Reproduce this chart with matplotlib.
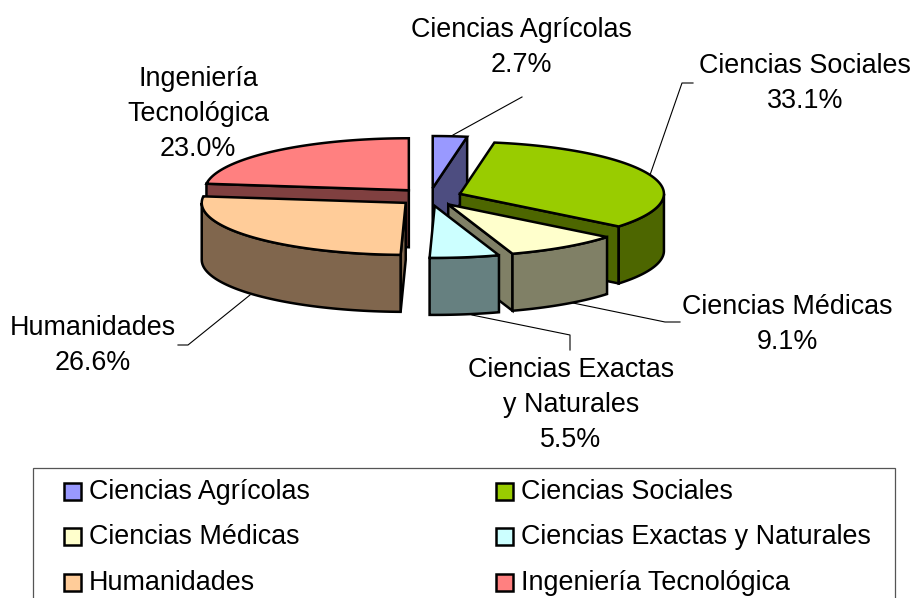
import numpy as np
import matplotlib
matplotlib.use("Agg")
import matplotlib.pyplot as plt
from matplotlib.patches import Polygon, Rectangle

plt.rcParams["font.family"] = ["Liberation Sans", "DejaVu Sans"]

categories = ["Ciencias Agrícolas", "Ciencias Sociales", "Ciencias Médicas",
              "Ciencias Exactas y Naturales", "Humanidades", "Ingeniería Tecnológica"]
labels = ["Ciencias Agrícolas", "Ciencias Sociales", "Ciencias Médicas",
          "Ciencias Exactas\ny Naturales", "Humanidades", "Ingeniería\nTecnológica"]
values = [2.7, 33.1, 9.1, 5.5, 26.6, 23.0]
colors = ["#9999FF", "#99CC00", "#FFFFCC", "#CCFFFF", "#FFCC99", "#FF8080"]

# pie geometry, in pixels
cx, cy = 430, 197
rx, ry = 204, 52
explode_x, explode_y = 32, 9
depth = 57
lw = 1.8
fs = 19.4

# label centres (x, first line y), line spacing 35
label_pos = [(521, 30), (805, 66), (787, 307), (571, 370), (93, 328), (198, 79)]

# leader lines
leaders = [
    [(453, 135), (522, 97)],
    [(650, 175), (682, 83), (693, 83)],
    [(573, 303), (665, 322), (680, 322)],
    [(472, 315), (570, 335), (570, 350)],
    [(250, 295), (188, 345), (178, 345)],
]

# back to front
draw_order = [0, 5, 1, 4, 2, 3]


def dark(c):
    return tuple(v / 2 for v in matplotlib.colors.to_rgb(c))


def point(ax0, ay0, deg):
    t = np.radians(deg)
    return ax0 + rx * np.sin(t), ay0 - ry * np.cos(t)


def draw_wall(ax, ax0, ay0, deg, color, z):
    px, py = point(ax0, ay0, deg)
    pts = [(ax0, ay0), (px, py), (px, py + depth), (ax0, ay0 + depth)]
    ax.add_patch(Polygon(pts, closed=True, fc=dark(color), ec="black", lw=lw, zorder=z, joinstyle="miter"))


def draw_slice(ax, start, end, color, z):
    mid = np.radians((start + end) / 2)
    ax0 = cx + explode_x * np.sin(mid)
    ay0 = cy - explode_y * np.cos(mid)

    # radial walls that face the viewer
    if np.sin(np.radians(end)) > 0.01:
        draw_wall(ax, ax0, ay0, end, color, z)
    if np.sin(np.radians(start)) < -0.01:
        draw_wall(ax, ax0, ay0, start, color, z)

    # outer rim, only the front half of the ellipse
    a = max(start, 90)
    b = min(end, 270)
    if b > a:
        t = np.linspace(a, b, 60)
        x, y = point(ax0, ay0, t)
        pts = np.r_[np.c_[x, y], np.c_[x, y + depth][::-1]]
        ax.add_patch(Polygon(pts, closed=True, fc=dark(color), ec="black", lw=lw, zorder=z, joinstyle="miter"))

    # top
    t = np.linspace(start, end, 80)
    x, y = point(ax0, ay0, t)
    pts = np.r_[[(ax0, ay0)], np.c_[x, y]]
    ax.add_patch(Polygon(pts, closed=True, fc=color, ec="black", lw=lw, zorder=z, joinstyle="miter"))


fig = plt.figure(figsize=(9.14, 5.98), dpi=100)
ax = fig.add_axes([0, 0, 1, 1])
ax.set_xlim(0, 914)
ax.set_ylim(598, 0)
ax.axis("off")

edges = np.r_[0, np.cumsum(values)] / sum(values) * 360
for z, i in enumerate(draw_order):
    draw_slice(ax, edges[i], edges[i + 1], colors[i], z + 2)

for line in leaders:
    xs, ys = zip(*line)
    ax.plot(xs, ys, color="black", lw=0.8, zorder=1)

for name, val, (x, y) in zip(labels, values, label_pos):
    for k, s in enumerate(name.split("\n") + ["{:.1f}%".format(val)]):
        ax.text(x, y + 35 * k, s, ha="center", va="center", fontsize=fs, color="black", zorder=20)

# legend box, cut off by the bottom of the image
ax.add_patch(Rectangle((33, 468), 862, 140, fc="white", ec="#555555", lw=0.9, zorder=1))
col_x = [64, 496]
row_y = [492, 537, 583]
for i, name in enumerate(categories):
    x = col_x[i % 2]
    y = row_y[i // 2]
    ax.add_patch(Rectangle((x, y - 9), 17, 17, fc=colors[i], ec="black", lw=1.8, zorder=3))
    ax.text(x + 25, y, name, ha="left", va="center", fontsize=fs, color="black", zorder=3)

fig.savefig("out.png", dpi=100)
